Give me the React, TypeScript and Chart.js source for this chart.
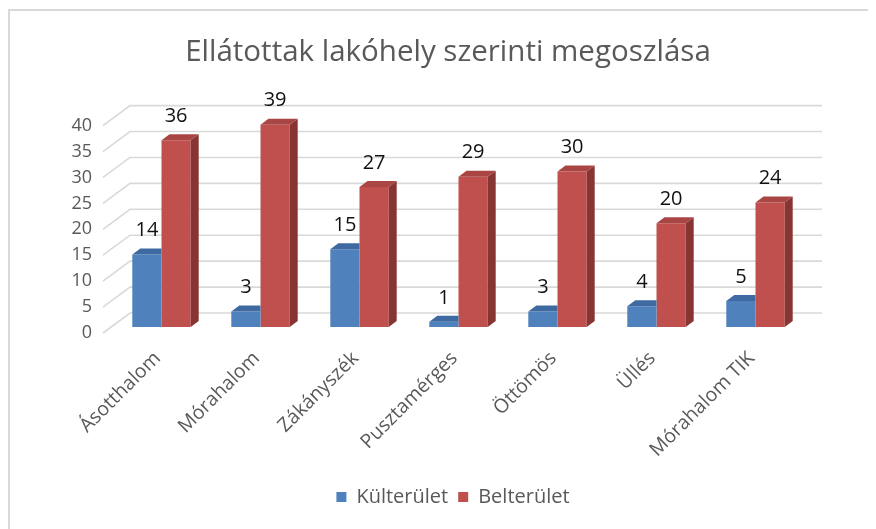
import { useEffect, useRef } from 'react';
import { Chart, registerables } from 'chart.js';

Chart.register(...registerables);

const categories = ['Ásotthalom', 'Mórahalom', 'Zákányszék', 'Pusztamérges', 'Öttömös', 'Üllés', 'Mórahalom TIK'];
const kulterulet = [14, 3, 15, 1, 3, 4, 5];
const belterulet = [36, 39, 27, 29, 30, 20, 24];
const seriesNames = ['Külterület', 'Belterület'];
const titleText = 'Ellátottak lakóhely szerinti megoszlása';

const FONT = '"Open Sans"';
const DX = 8;
const DY = -6;
const frontColors = ['#4f81bd', '#c0504d'];
const topColors = ['#3e6aa1', '#a94643'];
const sideColors = ['#2f5380', '#873532'];

function poly(ctx: CanvasRenderingContext2D, pts: number[][], color: string) {
  ctx.beginPath();
  ctx.moveTo(pts[0][0], pts[0][1]);
  for (let i = 1; i < pts.length; i++) ctx.lineTo(pts[i][0], pts[i][1]);
  ctx.closePath();
  ctx.fillStyle = color;
  ctx.fill();
}

const framePlugin = {
  id: 'frame',
  afterLayout(chart: any) {
    if (chart.legend) {
      chart.legend.left += 11;
      chart.legend.right += 11;
    }
    if (chart.titleBlock) {
      chart.titleBlock.left += 6;
      chart.titleBlock.right += 6;
    }
  },
  beforeDraw(chart: any) {
    const ctx = chart.ctx;
    ctx.save();
    ctx.fillStyle = '#d9d9d9';
    ctx.fillRect(0, 1, chart.width, 2);
    ctx.fillRect(0, 1, 2, chart.height);
    ctx.restore();
  },
};

const gridPlugin = {
  id: 'grid3d',
  beforeDatasetsDraw(chart: any) {
    const ctx = chart.ctx;
    const y = chart.scales.y;
    ctx.save();
    ctx.strokeStyle = '#d9d9d9';
    ctx.lineWidth = 1.6;
    y.ticks.forEach((t: any) => {
      const py = y.getPixelForValue(t.value);
      ctx.beginPath();
      ctx.moveTo(95, py + 6);
      ctx.lineTo(122, py - 14);
      ctx.lineTo(814, py - 14);
      ctx.stroke();
    });
    ctx.restore();
  },
};

const barsPlugin = {
  id: 'bars3d',
  afterDatasetsDraw(chart: any) {
    const ctx = chart.ctx;
    const m0 = chart.getDatasetMeta(0);
    const m1 = chart.getDatasetMeta(1);
    ctx.save();
    for (let i = 0; i < m0.data.length; i++) {
      const b = m0.data[i];
      const r = m1.data[i];
      const bl = b.x - b.width / 2;
      const br = b.x + b.width / 2;
      const rl = r.x - r.width / 2;
      const rr = r.x + r.width / 2;
      if (r.y <= b.y) {
        poly(ctx, [[bl, b.y], [br, b.y], [br, b.y + DY], [bl + DX, b.y + DY]], topColors[0]);
      } else {
        poly(ctx, [[bl, b.y], [br, b.y], [br + DX, b.y + DY], [bl + DX, b.y + DY]], topColors[0]);
        poly(ctx, [[br, b.y], [br + DX, b.y + DY], [br + DX, b.base + DY], [br, b.base]], sideColors[0]);
      }
      poly(ctx, [[rl, r.y], [rr, r.y], [rr + DX, r.y + DY], [rl + DX, r.y + DY]], topColors[1]);
      poly(ctx, [[rr, r.y], [rr + DX, r.y + DY], [rr + DX, r.base + DY], [rr, r.base]], sideColors[1]);
    }
    ctx.fillStyle = '#111111';
    ctx.font = `20px ${FONT}`;
    ctx.textAlign = 'center';
    ctx.textBaseline = 'middle';
    [m0, m1].forEach((m: any, di: number) => {
      const vals = di === 0 ? kulterulet : belterulet;
      m.data.forEach((el: any, i: number) => {
        ctx.fillText(String(vals[i]), el.x, el.y - 24);
      });
    });
    ctx.restore();
  },
};

export default function App() {
  const ref = useRef<HTMLCanvasElement | null>(null);
  useEffect(() => {
    if (!ref.current) return;
    const chart = new Chart(ref.current, {
      type: 'bar',
      data: {
        labels: categories,
        datasets: [
          { label: seriesNames[0], data: kulterulet, backgroundColor: frontColors[0], barPercentage: 1, categoryPercentage: 0.59 },
          { label: seriesNames[1], data: belterulet, backgroundColor: frontColors[1], barPercentage: 1, categoryPercentage: 0.59 },
        ],
      },
      options: {
        responsive: false,
        animation: false,
        layout: { padding: { left: 0, right: 0, top: 0, bottom: 12 } },
        plugins: {
          title: {
            display: true,
            text: titleText,
            color: '#595959',
            font: { family: FONT, size: 29.5, weight: 'normal' },
            padding: { top: 27.3, bottom: 48.9 },
          },
          legend: {
            position: 'bottom',
            labels: {
              boxWidth: 10,
              boxHeight: 10,
              color: '#595959',
              padding: 10,
              font: { family: FONT, size: 20 },
            },
          },
          tooltip: { enabled: false },
        },
        scales: {
          x: {
            grid: { display: false, drawTicks: false },
            border: { display: false },
            ticks: {
              minRotation: 45,
              maxRotation: 45,
              color: '#595959',
              padding: 20,
              labelOffset: -4,
              font: { family: FONT, size: 19.5 },
            },
            afterFit: (s: any) => {
              s.height = 150;
            },
          },
          y: {
            min: 0,
            max: 40,
            grid: { display: false, drawTicks: false },
            border: { display: false },
            ticks: {
              stepSize: 5,
              color: '#595959',
              padding: 20,
              labelOffset: 6,
              font: { family: FONT, size: 18 },
            },
            afterFit: (s: any) => {
              s.width = 104;
            },
          },
          yRight: {
            position: 'right',
            display: true,
            grid: { display: false, drawTicks: false },
            border: { display: false },
            ticks: { display: false },
            afterFit: (s: any) => {
              s.width = 71;
            },
          },
        },
      },
      plugins: [framePlugin, gridPlugin, barsPlugin],
    });
    return () => chart.destroy();
  }, []);
  return <canvas ref={ref} width={868} height={521} style={{ display: 'block' }} />;
}
